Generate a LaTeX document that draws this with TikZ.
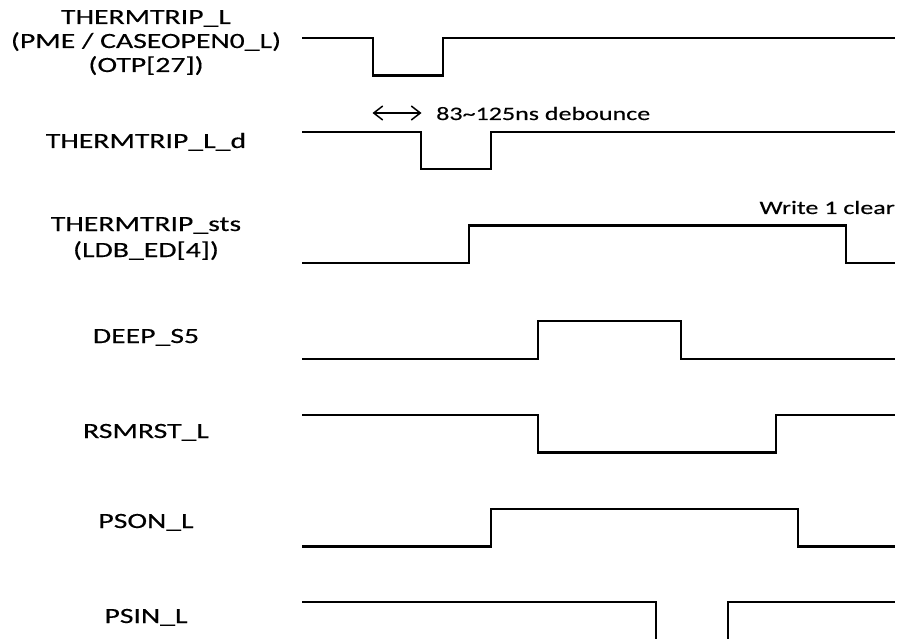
\documentclass[tikz,border=0pt]{standalone}
\usepackage{fontspec}
\setmainfont{Carlito}[FakeStretch=1.37,FakeBold=0.3]
\usetikzlibrary{arrows.meta}
\newcommand\labfont{\fontsize{21.7}{24}\selectfont}
\newcommand\smallfont{\fontsize{19}{22}\selectfont}
\tikzset{
  wave/.style={line width=2.2pt, line join=miter, line cap=butt},
  lab/.style={font=\labfont, inner sep=0pt, anchor=base},
  note/.style={font=\smallfont, inner sep=0pt},
  dim/.style={line width=1.5pt, {Straight Barb[length=9pt,width=14pt]}-{Straight Barb[length=9pt,width=14pt]}}
}
\begin{document}
\begin{tikzpicture}[x=1pt,y=-1pt]
\useasboundingbox (0,0) rectangle (899,639);
\clip (0,0) rectangle (899,639);
% labels
\node[lab] (l1a) at (146,24) {THERMTRIP\_L};
\node[lab] (l1b) at (146,48) {(PME / CASEOPEN0\_L)};
\node[lab] (l1c) at (146,72) {(OTP[27])};
\node[lab] (l2) at (146,148) {THERMTRIP\_L\_d};
\node[lab] (l3a) at (146,231) {THERMTRIP\_sts};
\node[lab] (l3b) at (146,257) {(LDB\_ED[4])};
\node[lab] (l4) at (146,343) {DEEP\_S5};
\node[lab] (l5) at (146,438) {RSMRST\_L};
\node[lab] (l6) at (146,528) {PSON\_L};
\node[lab] (l7) at (146,623) {PSIN\_L};
% waveforms
\draw[wave] (302,38) -- (373,38) -- (373,75.5) -- (443,75.5) -- (443,38) -- (895,38);
\draw[wave] (302,132) -- (421,132) -- (421,169) -- (491,169) -- (491,132) -- (895,132);
\draw[wave] (302,263) -- (469,263) -- (469,225.5) -- (846,225.5) -- (846,263) -- (895,263);
\draw[wave] (302,359) -- (538,359) -- (538,321) -- (681,321) -- (681,359) -- (895,359);
\draw[wave] (302,415) -- (538,415) -- (538,452.5) -- (776,452.5) -- (776,415) -- (895,415);
\draw[wave] (302,546.5) -- (491,546.5) -- (491,509) -- (798,509) -- (798,546.5) -- (895,546.5);
\draw[wave] (302,602) -- (656,602) -- (656,645);
\draw[wave] (728,645) -- (728,602) -- (895,602);
% debounce
\coordinate (da) at (372.5,113);
\coordinate (db) at (421.5,113);
\draw[dim] (da) -- (db);
\node[note, anchor=base west] (deb) at (436,120) {83\textasciitilde125ns debounce};
\node[note, anchor=base east] (w1c) at (895,214) {Write 1 clear};
\end{tikzpicture}
\end{document}
